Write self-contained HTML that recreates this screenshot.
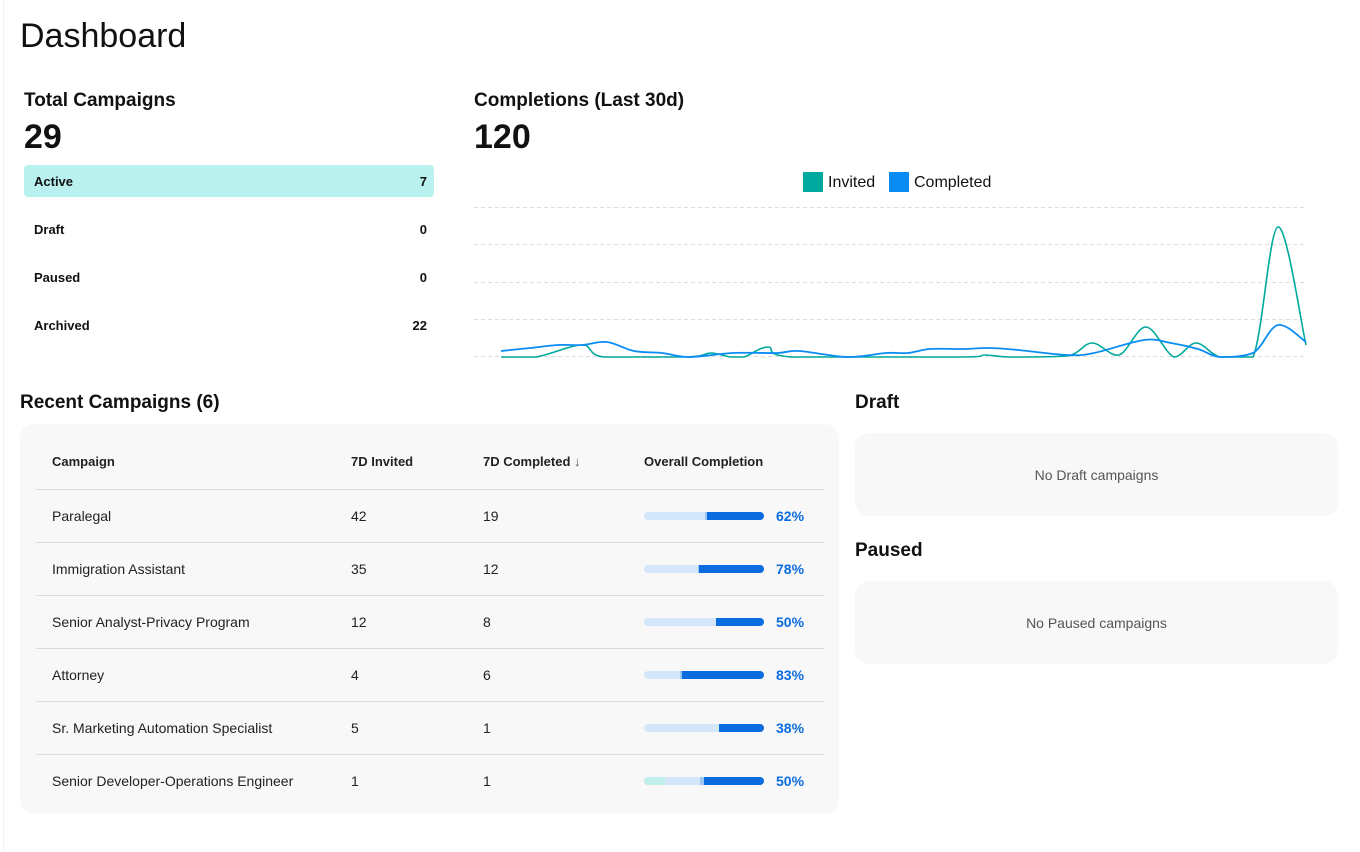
<!DOCTYPE html>
<html><head><meta charset="utf-8"><style>
*{margin:0;padding:0;box-sizing:border-box}
body{width:1360px;height:852px;background:#fff;font-family:"Liberation Sans",sans-serif;color:#111;position:relative;overflow:hidden}
.a{position:absolute;white-space:nowrap}
.b{font-weight:bold}
.row{position:absolute;left:24px;width:410px;height:32px;font-size:13px;font-weight:bold}
.row span{position:absolute;top:9px}
.card{position:absolute;background:#f8f8f8;border-radius:14px}
.td{position:absolute;font-size:14px;color:#222}
.hr{position:absolute;left:36px;width:788px;height:1px;background:#dcdcdc}
.bar{position:absolute;left:644px;width:120px;height:8px;border-radius:4px;background:#d3e6fa;overflow:hidden}
.bar i{position:absolute;top:0;bottom:0;right:0;background:#0b6ce0}
.bar u{position:absolute;top:0;bottom:0;background:#9cc8f3}
.pct{position:absolute;left:776px;font-size:14px;font-weight:bold;color:#0b6ce0}
</style></head><body>
<div class="a" style="left:3px;top:0;width:1px;height:852px;background:#f0f0f0"></div>
<div class="a" style="left:20px;top:17px;font-size:34px">Dashboard</div>
<div class="a b" style="left:24px;top:90px;font-size:19px">Total Campaigns</div>
<div class="a b" style="left:24px;top:118px;font-size:34px">29</div>
<div class="row" style="top:165px;background:#b9f1ef;border-radius:4px"><span style="left:10px">Active</span><span style="right:7px">7</span></div>
<div class="row" style="top:213px"><span style="left:10px">Draft</span><span style="right:7px">0</span></div>
<div class="row" style="top:261px"><span style="left:10px">Paused</span><span style="right:7px">0</span></div>
<div class="row" style="top:309px"><span style="left:10px">Archived</span><span style="right:7px">22</span></div>

<div class="a b" style="left:474px;top:90px;font-size:19px">Completions (Last 30d)</div>
<div class="a b" style="left:474px;top:118px;font-size:34px">120</div>
<div class="a" style="left:803px;top:172px;width:20px;height:20px;background:#00a99d"></div>
<div class="a" style="left:828px;top:174px;font-size:16px">Invited</div>
<div class="a" style="left:889px;top:172px;width:20px;height:20px;background:#0a8cf5"></div>
<div class="a" style="left:914px;top:174px;font-size:16px">Completed</div>
<svg class="a" style="left:0;top:0" width="1360" height="400">
<g stroke="#ddd" stroke-dasharray="4,3" stroke-width="1">
<line x1="474" y1="207.5" x2="1307" y2="207.5"/><line x1="474" y1="244.5" x2="1307" y2="244.5"/>
<line x1="474" y1="282.5" x2="1307" y2="282.5"/><line x1="474" y1="319.5" x2="1307" y2="319.5"/>
<line x1="474" y1="356.5" x2="1307" y2="356.5"/></g>
<path id="pt" fill="none" stroke="#00a99d" stroke-width="1.6"/>
<path id="pb" fill="none" stroke="#0a8cf5" stroke-width="1.8"/>
</svg>

<div class="a b" style="left:20px;top:392px;font-size:19px">Recent Campaigns (6)</div>
<div class="card" style="left:20px;top:424px;width:819px;height:390px"></div>
<div class="td b" style="left:52px;top:454px;font-size:13px">Campaign</div>
<div class="td b" style="left:351px;top:454px;font-size:13px">7D Invited</div>
<div class="td b" style="left:483px;top:454px;font-size:13px">7D Completed <span style="font-weight:normal;color:#555">↓</span></div>
<div class="td b" style="left:644px;top:454px;font-size:13px">Overall Completion</div>
<div class="hr" style="top:489px"></div>
<div class="td" style="left:52px;top:508px">Paralegal</div><div class="td" style="left:351px;top:508px">42</div><div class="td" style="left:483px;top:508px">19</div>
<div class="bar" style="top:512px"><u style="left:61px;width:3px"></u><i style="left:63px"></i></div><div class="pct" style="top:508px">62%</div>
<div class="hr" style="top:542px"></div>
<div class="td" style="left:52px;top:561px">Immigration Assistant</div><div class="td" style="left:351px;top:561px">35</div><div class="td" style="left:483px;top:561px">12</div>
<div class="bar" style="top:565px"><u style="left:54px;width:2px"></u><i style="left:55px"></i></div><div class="pct" style="top:561px">78%</div>
<div class="hr" style="top:595px"></div>
<div class="td" style="left:52px;top:614px">Senior Analyst-Privacy Program</div><div class="td" style="left:351px;top:614px">12</div><div class="td" style="left:483px;top:614px">8</div>
<div class="bar" style="top:618px"><i style="left:72px"></i></div><div class="pct" style="top:614px">50%</div>
<div class="hr" style="top:648px"></div>
<div class="td" style="left:52px;top:667px">Attorney</div><div class="td" style="left:351px;top:667px">4</div><div class="td" style="left:483px;top:667px">6</div>
<div class="bar" style="top:671px"><u style="left:36px;width:3px"></u><i style="left:38px"></i></div><div class="pct" style="top:667px">83%</div>
<div class="hr" style="top:701px"></div>
<div class="td" style="left:52px;top:720px">Sr. Marketing Automation Specialist</div><div class="td" style="left:351px;top:720px">5</div><div class="td" style="left:483px;top:720px">1</div>
<div class="bar" style="top:724px"><i style="left:75px"></i></div><div class="pct" style="top:720px">38%</div>
<div class="hr" style="top:754px"></div>
<div class="td" style="left:52px;top:773px">Senior Developer-Operations Engineer</div><div class="td" style="left:351px;top:773px">1</div><div class="td" style="left:483px;top:773px">1</div>
<div class="bar" style="top:777px"><u style="left:0;width:21px;background:#bfeeeb"></u><u style="left:56px;width:4px"></u><i style="left:60px"></i></div><div class="pct" style="top:773px">50%</div>

<div class="a b" style="left:855px;top:392px;font-size:19px">Draft</div>
<div class="card" style="left:855px;top:433px;width:483px;height:83px"></div>
<div class="a" style="left:855px;width:483px;text-align:center;top:467px;font-size:14px;color:#555">No Draft campaigns</div>
<div class="a b" style="left:855px;top:540px;font-size:19px">Paused</div>
<div class="card" style="left:855px;top:581px;width:483px;height:83px"></div>
<div class="a" style="left:855px;width:483px;text-align:center;top:615px;font-size:14px;color:#555">No Paused campaigns</div>
<script>
function cr(p){let d="M"+p[0][0]+","+p[0][1];for(let i=0;i<p.length-1;i++){const p0=p[i-1]||p[i],p1=p[i],p2=p[i+1],p3=p[i+2]||p2;
const c1=[p1[0]+(p2[0]-p0[0])/6,p1[1]+(p2[1]-p0[1])/6],c2=[p2[0]-(p3[0]-p1[0])/6,p2[1]-(p3[1]-p1[1])/6];
d+=" C"+c1[0].toFixed(1)+","+Math.min(357,c1[1]).toFixed(1)+" "+c2[0].toFixed(1)+","+Math.min(357,c2[1]).toFixed(1)+" "+p2[0]+","+p2[1];}return d;}
const t=[[501,357],[536,357],[582,345],[604,357],[689,357],[711,353],[730,357],[744,357],[768,347],[793,357],[960,357],[985,355],[1010,357],[1067,356],[1092,343],[1119,355],[1146,327],[1174,357],[1196,343],[1220,357],[1253,357],[1278,227],[1306,345]];
const b=[[501,351],[530,348],[558,345],[582,345],[607,342],[634,351],[662,353],[689,357],[733,353],[777,353],[799,351],[848,357],[886,353],[908,353],[930,349],[963,349],[990,348],[1018,350],[1067,355],[1094,353],[1144,340],[1171,343],[1198,349],[1220,357],[1253,353],[1278,325],[1306,342]];
document.getElementById("pt").setAttribute("d",cr(t));document.getElementById("pb").setAttribute("d",cr(b));
</script>
</body></html>
